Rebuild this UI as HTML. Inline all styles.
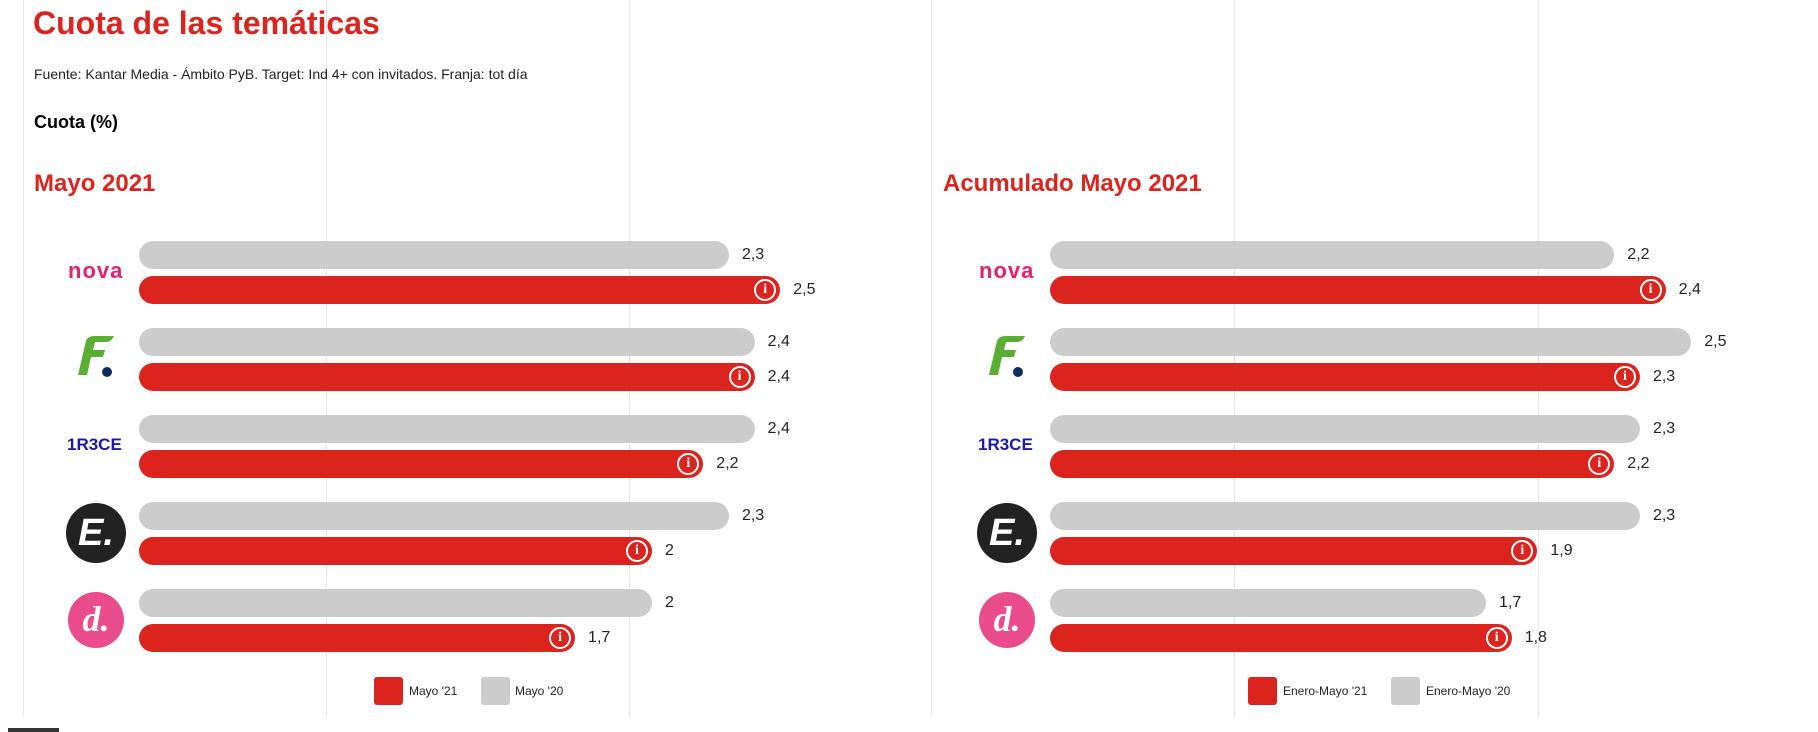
<!DOCTYPE html>
<html><head><meta charset="utf-8"><style>
body{margin:0;width:1818px;height:732px;background:#fff;position:relative;overflow:hidden;font-family:"Liberation Sans",Arial,sans-serif}
.a{position:absolute;white-space:nowrap}
.vl{position:absolute;top:0;height:716px;width:1px;background:#e6e6e6}
.bar{position:absolute;height:28px;border-radius:14px}
.g{background:#cccccc}
.r{background:#dc241f}
.lab{position:absolute;font-size:16px;color:#222;line-height:28px}
.ic{position:absolute;width:18px;height:18px;border:2px solid #fff;border-radius:50%;top:3px;color:#fff;font:bold 14px/18px "Liberation Serif",serif;text-align:center}
.h2{font-size:24px;font-weight:bold;color:#dc241f}
.lg{position:absolute;width:29px;height:28px;border-radius:3px}
.lt{position:absolute;font-size:12px;color:#222;line-height:28px}
</style></head><body>
<div class="vl" style="left:23px"></div>
<div class="vl" style="left:326px"></div>
<div class="vl" style="left:629px"></div>
<div class="vl" style="left:931px"></div>
<div class="vl" style="left:1234px"></div>
<div class="vl" style="left:1538px"></div>
<div class="a" style="left:33px;top:5px;font-size:32px;font-weight:bold;color:#dc241f">Cuota de las temáticas</div>
<div class="a" style="left:34px;top:66px;font-size:14px;color:#222">Fuente: Kantar Media - Ámbito PyB. Target: Ind 4+ con invitados. Franja: tot día</div>
<div class="a" style="left:34px;top:112px;font-size:18px;font-weight:bold;color:#000">Cuota (%)</div>
<div class="a h2" style="left:34px;top:170px">Mayo 2021</div>
<div class="a h2" style="left:943px;top:170px">Acumulado Mayo 2021</div>
<div id="c"></div>
<div class="lg r" style="left:374px;top:677px"></div><div class="lt" style="left:409px;top:677px">Mayo '21</div>
<div class="lg g" style="left:481px;top:677px"></div><div class="lt" style="left:515px;top:677px">Mayo '20</div>
<div class="lg r" style="left:1248px;top:677px"></div><div class="lt" style="left:1283px;top:677px">Enero-Mayo '21</div>
<div class="lg g" style="left:1391px;top:677px"></div><div class="lt" style="left:1426px;top:677px">Enero-Mayo '20</div>
<div class="a" style="left:8px;top:728px;width:51px;height:4px;background:#333"></div>
<script>
var L=[[2.3,2.5],[2.4,2.4],[2.4,2.2],[2.3,2],[2,1.7]];
var R=[[2.2,2.4],[2.5,2.3],[2.3,2.2],[2.3,1.9],[1.7,1.8]];
function f(v){return String(v).replace('.',',');}
var h='';var S=256.5;
function panel(x0,d){
 for(var i=0;i<5;i++){
  var t=241+87*i;
  var wg=d[i][0]*S, wr=d[i][1]*S;
  h+='<div class="bar g" style="left:'+x0+'px;top:'+t+'px;width:'+wg+'px"></div>';
  h+='<div class="lab" style="left:'+(x0+wg+13)+'px;top:'+t+'px">'+f(d[i][0])+'</div>';
  h+='<div class="bar r" style="left:'+x0+'px;top:'+(t+35)+'px;width:'+wr+'px"><div class="ic" style="left:'+(wr-26)+'px">i</div></div>';
  h+='<div class="lab" style="left:'+(x0+wr+13)+'px;top:'+(t+35)+'px">'+f(d[i][1])+'</div>';
  var cx=x0-43, cy=t+31;
  var logo='';
  if(i==0) logo='<div class="a" style="left:'+(cx-28)+'px;top:'+(cy-14)+'px;font-size:22px;font-weight:bold;color:#e5206f;letter-spacing:1px">nova</div>';
  if(i==1) logo='<svg class="a" style="left:'+(cx-22)+'px;top:'+(cy-24)+'px" width="44" height="48"><path d="M12 6 Q14 1 20 1 L40 1 Q38 6 33 7 L21 7 L19 15 L31 15 L29 22 L17 22 L13 40 L4 40 Z" fill="#5aae31"/><circle cx="33" cy="37" r="5" fill="#0f2d5c"/></svg>';
  if(i==2) logo='<div class="a" style="left:'+(cx-29)+'px;top:'+(cy-11)+'px;font-size:17px;font-weight:bold;color:#1a1aa8;letter-spacing:0px">1R3CE</div>';
  if(i==3) logo='<div class="a" style="left:'+(cx-30)+'px;top:'+(cy-30)+'px;width:60px;height:60px;border-radius:50%;background:#222;color:#fff;font:italic bold 38px/60px \'Liberation Sans\',sans-serif;text-align:center">E.</div>';
  if(i==4) logo='<div class="a" style="left:'+(cx-28)+'px;top:'+(cy-28)+'px;width:56px;height:56px;border-radius:50%;background:#ea4b8b;color:#fff;font:italic bold 36px/54px \'Liberation Serif\',serif;text-align:center">d.</div>';
  h+=logo;
 }
}
panel(139,L);panel(1050,R);
document.getElementById('c').innerHTML=h;
</script>
</body></html>
